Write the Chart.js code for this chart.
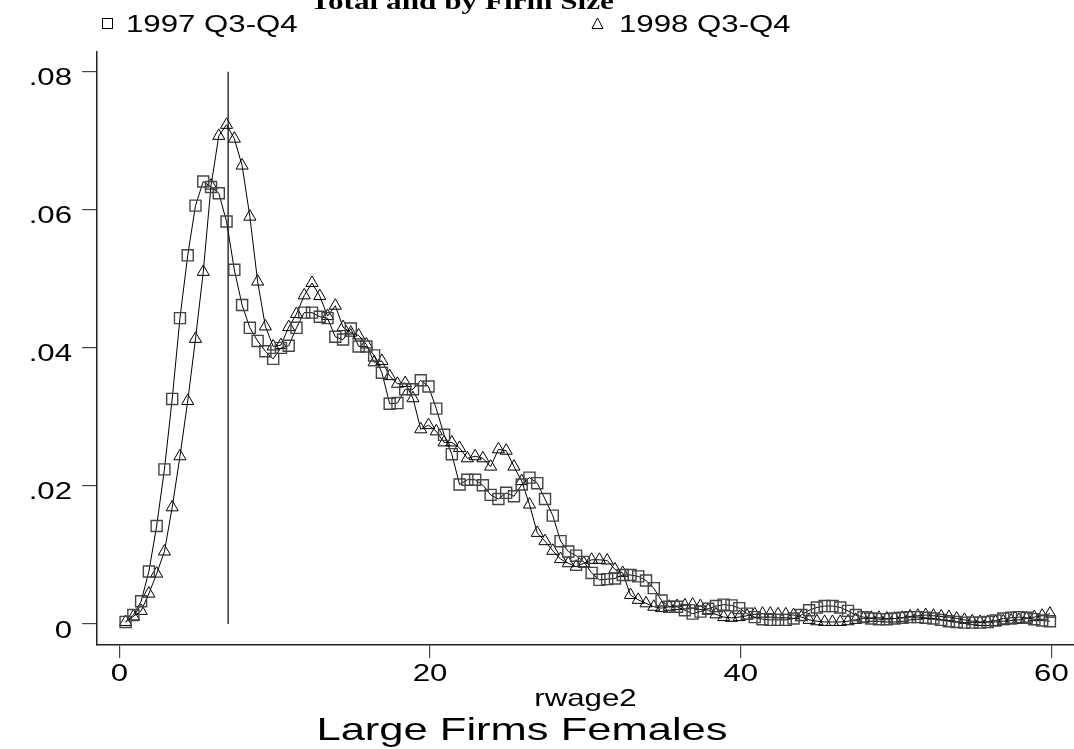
<!DOCTYPE html>
<html>
<head>
<meta charset="utf-8">
<script src="https://cdn.jsdelivr.net/npm/chart.js@4.4.0/dist/chart.umd.min.js"></script>
<style>
  html, body { margin: 0; padding: 0; background: #fff; }
</style>
</head>
<body>
<canvas id="myCanvas" width="1074" height="749"></canvas>
<script>
// evaluation points of the kernel density (rwage2)
const xs = [
  0.4, 0.9, 1.4, 1.9, 2.4, 2.9, 3.4, 3.9, 4.4, 4.9,
  5.4, 5.9, 6.4, 6.9, 7.4, 7.9, 8.4, 8.9, 9.4, 9.9,
  10.4, 10.9, 11.4, 11.9, 12.4, 12.9, 13.4, 13.9, 14.4, 14.9,
  15.4, 15.9, 16.4, 16.9, 17.4, 17.9, 18.4, 18.9, 19.4, 19.9,
  20.4, 20.9, 21.4, 21.9, 22.4, 22.9, 23.4, 23.9, 24.4, 24.9,
  25.4, 25.9, 26.4, 26.9, 27.4, 27.9, 28.4, 28.9, 29.4, 29.9,
  30.4, 30.9, 31.4, 31.9, 32.4, 32.9, 33.4, 33.9, 34.4, 34.9,
  35.4, 35.9, 36.4, 36.9, 37.4, 37.9, 38.4, 38.9, 39.4, 39.9,
  40.4, 40.9, 41.4, 41.9, 42.4, 42.9, 43.4, 43.9, 44.4, 44.9,
  45.4, 45.9, 46.4, 46.9, 47.4, 47.9, 48.4, 48.9, 49.4, 49.9,
  50.4, 50.9, 51.4, 51.9, 52.4, 52.9, 53.4, 53.9, 54.4, 54.9,
  55.4, 55.9, 56.4, 56.9, 57.4, 57.9, 58.4, 58.9, 59.4, 59.9
];

// 1997 Q3-Q4 (squares)
const dens1997 = [
  0.0003, 0.0013, 0.0033, 0.0076, 0.0142, 0.0224, 0.0326, 0.0443, 0.0534, 0.0606,
  0.0641, 0.0633, 0.0624, 0.0583, 0.0513, 0.0462, 0.0429, 0.0410, 0.0395, 0.0384,
  0.0400, 0.0403, 0.0429, 0.0451, 0.0451, 0.0445, 0.0443, 0.0416, 0.0412, 0.0428,
  0.0402, 0.0402, 0.0389, 0.0364, 0.0319, 0.0320, 0.0340, 0.0340, 0.0353, 0.0344,
  0.0312, 0.0274, 0.0246, 0.0202, 0.0209, 0.0209, 0.0201, 0.0187, 0.0181, 0.0190,
  0.0185, 0.0202, 0.0212, 0.0204, 0.0181, 0.0157, 0.0120, 0.0105, 0.0099, 0.0090,
  0.0074, 0.0064, 0.0065, 0.0066, 0.0071, 0.0071, 0.0069, 0.0063, 0.0052, 0.0034,
  0.0025, 0.0025, 0.0020, 0.0015, 0.0018, 0.0022, 0.0026, 0.0028, 0.0027, 0.0023,
  0.0015, 0.0010, 0.0007, 0.0006, 0.0006, 0.0006, 0.0008, 0.0013, 0.0020, 0.0024,
  0.0026, 0.0026, 0.0024, 0.0019, 0.0013, 0.0010, 0.0008, 0.0007, 0.0007, 0.0008,
  0.0009, 0.0010, 0.0010, 0.0009, 0.0008, 0.0006, 0.0004, 0.0003, 0.0002, 0.0002,
  0.0002, 0.0003, 0.0005, 0.0008, 0.0009, 0.0010, 0.0009, 0.0007, 0.0005, 0.0004
];

// 1998 Q3-Q4 (triangles)
const dens1998 = [
  0.0003, 0.0011, 0.0019, 0.0044, 0.0073, 0.0105, 0.0169, 0.0243, 0.0323, 0.0413,
  0.0510, 0.0635, 0.0707, 0.0723, 0.0703, 0.0664, 0.0590, 0.0496, 0.0431, 0.0402,
  0.0404, 0.0430, 0.0449, 0.0476, 0.0494, 0.0475, 0.0446, 0.0461, 0.0430, 0.0422,
  0.0418, 0.0405, 0.0379, 0.0381, 0.0359, 0.0348, 0.0349, 0.0327, 0.0282, 0.0288,
  0.0279, 0.0263, 0.0263, 0.0255, 0.0240, 0.0243, 0.0240, 0.0228, 0.0253, 0.0251,
  0.0228, 0.0207, 0.0173, 0.0132, 0.0120, 0.0106, 0.0094, 0.0088, 0.0083, 0.0088,
  0.0093, 0.0093, 0.0092, 0.0079, 0.0074, 0.0042, 0.0035, 0.0030, 0.0025, 0.0023,
  0.0025, 0.0026, 0.0027, 0.0028, 0.0026, 0.0020, 0.0014, 0.0010, 0.0009, 0.0010,
  0.0012, 0.0014, 0.0015, 0.0015, 0.0014, 0.0014, 0.0013, 0.0010, 0.0006, 0.0004,
  0.0003, 0.0003, 0.0003, 0.0004, 0.0006, 0.0008, 0.0009, 0.0009, 0.0008, 0.0008,
  0.0009, 0.0011, 0.0012, 0.0013, 0.0012, 0.0011, 0.0010, 0.0008, 0.0006, 0.0004,
  0.0003, 0.0003, 0.0003, 0.0004, 0.0005, 0.0006, 0.0008, 0.0010, 0.0012, 0.0015
];

// vertical reference line
const refX = 7;
const refYs = [0, 0.08];

const xTicks = [0, 20, 40, 60];
const xTickLabels = ['0', '20', '40', '60'];
const yTicks = [0, 0.02, 0.04, 0.06, 0.08];
const yTickLabels = ['0', '.02', '.04', '.06', '.08'];
const seriesNames = ['1997 Q3-Q4', '1998 Q3-Q4'];
const chartTitle = 'Total and by Firm Size';
const xTitle = 'rwage2';
const caption = 'Large Firms Females';

const FONT = "'Liberation Sans', Arial, sans-serif";
const STRETCH = 1.3; // the old graph engine draws its text wide

const toPoints = (ys) => xs.map((x, i) => ({x: x, y: ys[i]}));

function wideText(c, txt, x, y, align, sx) {
  c.save();
  c.translate(x, y);
  c.scale(sx || STRETCH, 1);
  c.textAlign = align;
  c.fillText(txt, 0, 0);
  c.restore();
}

// tick labels, titles and legend drawn straight on the canvas
const textPlugin = {
  id: 'stataText',
  afterDraw(chart) {
    const c = chart.ctx;
    const xs_ = chart.scales.x;
    const ys_ = chart.scales.y;
    c.save();
    c.fillStyle = '#000';
    c.strokeStyle = '#000';
    c.textBaseline = 'alphabetic';

    c.font = '24px ' + FONT;
    xTicks.forEach((v, i) => {
      wideText(c, xTickLabels[i], xs_.getPixelForValue(v), 681, 'center');
    });
    yTicks.forEach((v, i) => {
      wideText(c, yTickLabels[i], 72, ys_.getPixelForValue(v) + 13.5, 'right');
    });

    c.font = "bold 24px 'Liberation Serif', 'Times New Roman', serif";
    wideText(c, chartTitle, 462, 9, 'center');

    // legend
    c.font = '24px ' + FONT;
    c.lineWidth = 1;
    c.strokeRect(102.5, 18.5, 10, 10);
    wideText(c, seriesNames[0], 126, 32, 'left');
    c.beginPath();
    c.moveTo(597.5, 18);
    c.lineTo(603, 28.5);
    c.lineTo(592, 28.5);
    c.closePath();
    c.stroke();
    wideText(c, seriesNames[1], 619, 32, 'left');

    wideText(c, xTitle, (chart.chartArea.left + chart.chartArea.right) / 2, 706, 'center');
    c.font = '32px ' + FONT;
    wideText(c, caption, 522, 740, 'center', 1.36);
    c.restore();
  }
};

const ctx = document.getElementById('myCanvas').getContext('2d');

const myChart = new Chart(ctx, {
  type: 'line',
  data: {
    datasets: [
      {
        label: seriesNames[0],
        data: toPoints(dens1997),
        borderColor: '#000',
        borderWidth: 1,
        pointStyle: 'rect',
        pointRadius: 7.8,
        pointBorderWidth: 1.4,
        pointBorderColor: '#444',
        pointBackgroundColor: 'rgba(0,0,0,0)'
      },
      {
        label: seriesNames[1],
        data: toPoints(dens1998),
        borderColor: '#000',
        borderWidth: 1,
        pointStyle: 'triangle',
        pointRadius: 7,
        pointBorderWidth: 1,
        pointBorderColor: '#000',
        pointBackgroundColor: 'rgba(0,0,0,0)'
      },
      {
        label: 'ref',
        data: refYs.map(y => ({x: refX, y: y})),
        borderColor: '#000',
        borderWidth: 1.2,
        pointRadius: 0
      }
    ]
  },
  options: {
    responsive: false,
    animation: false,
    events: [],
    layout: { autoPadding: false, padding: { top: 52, left: 0, right: 0, bottom: 0 } },
    elements: { line: { tension: 0 } },
    plugins: {
      legend: { display: false },
      title: { display: false },
      tooltip: { enabled: false }
    },
    scales: {
      x: {
        type: 'linear',
        min: -1.44,
        max: 61.45,
        afterBuildTicks: (s) => { s.ticks = xTicks.map(v => ({value: v})); },
        afterFit: (s) => { s.height = 104; },
        grid: { drawOnChartArea: false, drawTicks: true, tickLength: 13, color: '#444', lineWidth: 1.2 },
        border: { display: true, color: '#222', width: 1.5 },
        ticks: { display: false }
      },
      y: {
        type: 'linear',
        min: -0.00304,
        max: 0.08285,
        afterBuildTicks: (s) => { s.ticks = yTicks.map(v => ({value: v})); },
        afterFit: (s) => { s.width = 97; },
        grid: { drawOnChartArea: false, drawTicks: true, tickLength: 15, color: '#444', lineWidth: 1.2 },
        border: { display: true, color: '#222', width: 1.5 },
        ticks: { display: false }
      }
    }
  },
  plugins: [textPlugin]
});
</script>
</body>
</html>
